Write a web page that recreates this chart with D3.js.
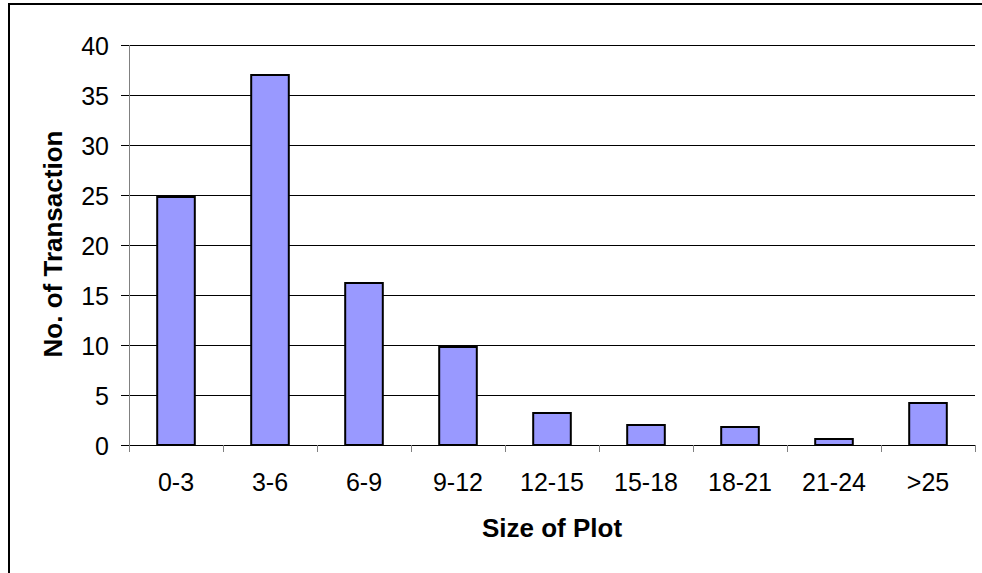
<!DOCTYPE html>
<html>
<head>
<meta charset="utf-8">
<script src="https://cdn.jsdelivr.net/npm/d3@7"></script>
<style>
  html, body { margin: 0; padding: 0; background: #fff; }
  svg { display: block; }
  text { font-family: "Liberation Sans", Arial, sans-serif; fill: #000; }
</style>
</head>
<body>
<svg id="chart" width="982" height="573"></svg>
<script>
// Plot size classes and number of transactions in each
const categories = ["0-3", "3-6", "6-9", "9-12", "12-15", "15-18", "18-21", "21-24", ">25"];
const transactions = [24.8, 37, 16.2, 9.8, 3.2, 2, 1.8, 0.6, 4.2];
const yTicks = [0, 5, 10, 15, 20, 25, 30, 35, 40];
const xTitle = "Size of Plot";
const yTitle = "No. of Transaction";

const svg = d3.select("#chart");
const W = 982, H = 573;
const plot = { left: 129, right: 975, top: 45, bottom: 445 };

// Outer chart frame (open on the right and bottom edges of the page)
svg.append("path")
  .attr("d", `M9,${H} L9,4 L${W},4`)
  .attr("fill", "none")
  .attr("stroke", "#000")
  .attr("stroke-width", 2);

const x = d3.scaleBand()
  .domain(categories)
  .range([plot.left, plot.right])
  .paddingInner(0.6)
  .paddingOuter(0.3);

const y = d3.scaleLinear()
  .domain([0, 40])
  .range([plot.bottom, plot.top]);

// Tick marks and labels on the value axis
const yAxis = svg.append("g")
  .attr("transform", `translate(${plot.left},0)`)
  .call(d3.axisLeft(y)
    .tickValues(yTicks)
    .tickSize(8)
    .tickPadding(12)
    .tickFormat(d3.format("d")));
yAxis.select(".domain").remove();
yAxis.selectAll(".tick line").attr("stroke", "#000");
yAxis.selectAll(".tick text")
  .attr("dy", "0.36em")
  .style("font-size", "25px")
  .style("font-family", "'Liberation Sans', Arial, sans-serif");

// Horizontal gridlines
svg.append("g")
  .selectAll("line")
  .data(yTicks.filter(d => d > 0))
  .join("line")
  .attr("x1", plot.left)
  .attr("x2", plot.right)
  .attr("y1", d => y(d))
  .attr("y2", d => y(d))
  .attr("stroke", "#000")
  .attr("stroke-width", 1)
  .attr("shape-rendering", "crispEdges");

// Bars
svg.append("g")
  .selectAll("rect")
  .data(transactions)
  .join("rect")
  .attr("x", (d, i) => x(categories[i]))
  .attr("y", d => y(d))
  .attr("width", x.bandwidth())
  .attr("height", d => y(0) - y(d))
  .attr("fill", "#9999ff")
  .attr("stroke", "#000")
  .attr("stroke-width", 2);

// Value axis line
svg.append("line")
  .attr("x1", plot.left).attr("x2", plot.left)
  .attr("y1", plot.top).attr("y2", plot.bottom)
  .attr("stroke", "#808080")
  .attr("stroke-width", 1)
  .attr("shape-rendering", "crispEdges");

// Category axis: baseline, ticks between categories, labels
const boundaries = d3.range(categories.length + 1)
  .map(i => plot.left + i * (plot.right - plot.left) / categories.length);
svg.append("line")
  .attr("x1", plot.left).attr("x2", plot.right)
  .attr("y1", plot.bottom).attr("y2", plot.bottom)
  .attr("stroke", "#000")
  .attr("stroke-width", 1)
  .attr("shape-rendering", "crispEdges");
svg.append("g")
  .selectAll("line")
  .data(boundaries)
  .join("line")
  .attr("x1", d => d).attr("x2", d => d)
  .attr("y1", plot.bottom).attr("y2", plot.bottom + 7)
  .attr("stroke", "#808080")
  .attr("shape-rendering", "crispEdges");

svg.append("g")
  .selectAll("text")
  .data(categories)
  .join("text")
  .attr("x", d => x(d) + x.bandwidth() / 2)
  .attr("y", 491)
  .attr("text-anchor", "middle")
  .style("font-size", "25px")
  .text(d => d);

// Axis titles
svg.append("text")
  .attr("x", 552)
  .attr("y", 537)
  .attr("text-anchor", "middle")
  .style("font-size", "26px")
  .style("font-weight", "bold")
  .text(xTitle);

svg.append("text")
  .attr("transform", "translate(62,244) rotate(-90)")
  .attr("text-anchor", "middle")
  .style("font-size", "26px")
  .style("font-weight", "bold")
  .text(yTitle);
</script>
</body>
</html>
